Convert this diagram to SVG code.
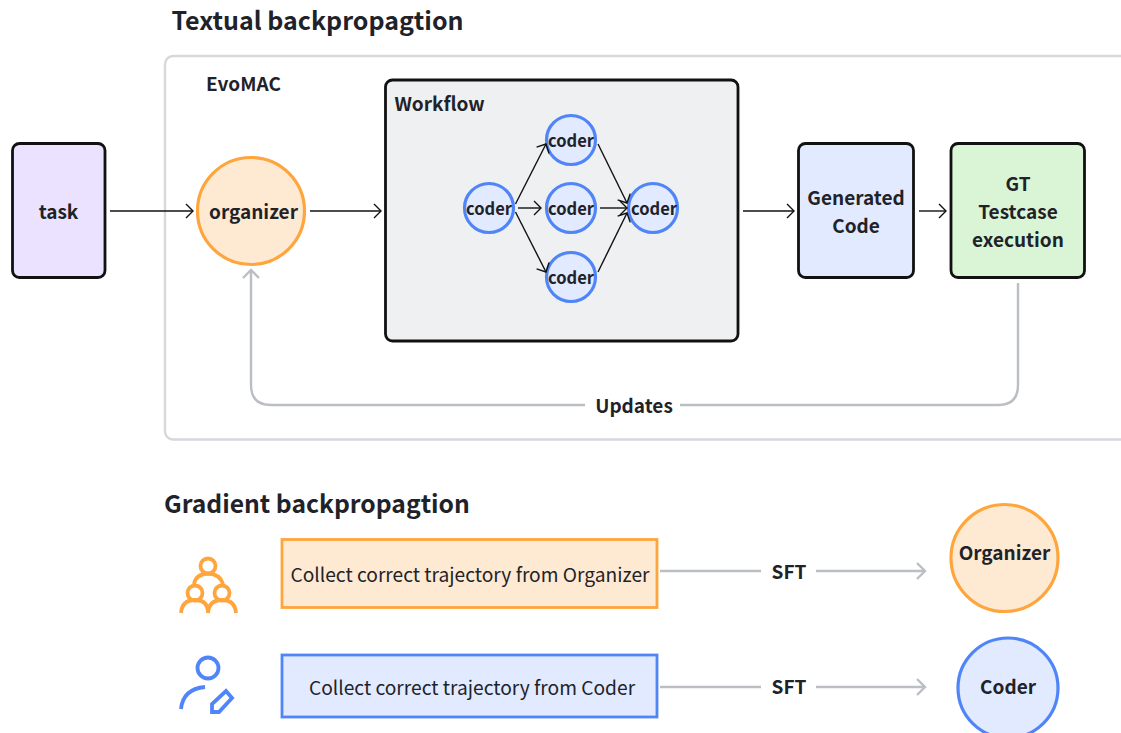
<svg xmlns="http://www.w3.org/2000/svg" width="1121" height="733" viewBox="0 0 1121 733">
<defs>
<marker id="ah" markerUnits="userSpaceOnUse" markerWidth="16" markerHeight="18" refX="13" refY="9" orient="auto" overflow="visible"><path d="M6 2L13 9L6 16" fill="none" stroke="#111" stroke-width="1.400"/></marker>
<marker id="ag" markerUnits="userSpaceOnUse" markerWidth="18" markerHeight="20" refX="15" refY="10" orient="auto" overflow="visible"><path d="M7 2L15 10L7 18" fill="none" stroke="#bbbfc4" stroke-width="2.400"/></marker>
</defs>
<style>
text{font-family:"Noto Sans CJK SC","Noto Sans",sans-serif;fill:#1f2329;text-anchor:middle;font-weight:700}
.h{font-size:25px;text-anchor:start}
.m{font-size:19px}
.n{font-size:19.200px;font-weight:400}
.c{font-size:16.500px}
.box{stroke:#111;stroke-width:2.800}
.bc{fill:#e1eaff;stroke:#5085f8;stroke-width:3.200}
.oc{fill:#feead2;stroke:#ffa53d;stroke-width:3.200}
.l{fill:none;stroke:#111;stroke-width:1.400;marker-end:url(#ah)}
.g{fill:none;stroke:#bbbfc4;stroke-width:2.400}
</style>
<rect id="evomac-frame" x="165" y="56" width="1000" height="383.500" rx="8" fill="#fff" stroke="#d6d8db" stroke-width="2.400"/>
<text class="h" x="171.500" y="30">Textual backpropagtion</text>
<text class="m" x="243.500" y="91">EvoMAC</text>
<g id="task"><rect class="box" x="12.500" y="143.500" width="92.500" height="134" rx="7" fill="#eae2fe"/><text class="m" x="58.500" y="219">task</text></g>
<g id="organizer"><circle class="oc" cx="251" cy="211" r="53.500"/><text class="m" x="253.500" y="219">organizer</text></g>
<g id="workflow"><rect class="box" x="385.500" y="80" width="352.500" height="261" rx="7" fill="#eff0f1"/><text class="m" x="439.500" y="111">Workflow</text></g>
<g id="coder-a"><circle class="bc" cx="489" cy="208" r="24.500"/><text class="c" x="489" y="215">coder</text></g>
<g id="coder-b"><circle class="bc" cx="571" cy="140" r="24.500"/><text class="c" x="571" y="147">coder</text></g>
<g id="coder-c"><circle class="bc" cx="571" cy="208" r="24.500"/><text class="c" x="571" y="215">coder</text></g>
<g id="coder-d"><circle class="bc" cx="571" cy="277" r="24.500"/><text class="c" x="571" y="284">coder</text></g>
<g id="coder-e"><circle class="bc" cx="653" cy="208" r="24.500"/><text class="c" x="654" y="215">coder</text></g>
<g id="generated-code"><rect class="box" x="798.500" y="143.500" width="115" height="134" rx="7" fill="#e1eaff"/><text class="m" x="856" y="205">Generated</text><text class="m" x="856" y="233">Code</text></g>
<g id="testcase"><rect class="box" x="951" y="143.500" width="133.500" height="134" rx="7" fill="#d9f5d6"/><text class="m" x="1018" y="191">GT</text><text class="m" x="1018" y="219">Testcase</text><text class="m" x="1018" y="247">execution</text></g>
<g id="connectors">
<path class="l" d="M110 211H193"/>
<path class="l" d="M310 211H381"/>
<path class="l" d="M743 211H794"/>
<path class="l" d="M919 211H946"/>
<path class="l" d="M515.500 204L546 144"/>
<path class="l" d="M518 208H541"/>
<path class="l" d="M515.500 212L546 272"/>
<path class="l" d="M598 144L627 203"/>
<path class="l" d="M600 208H627"/>
<path class="l" d="M598 272L627 213"/>
<path class="g" d="M1018 283V385Q1018 405 998 405H680M585 405H271Q251 405 251 385V270" marker-end="url(#ag)"/>
<path class="g" d="M660 571H761M816 571H925" marker-end="url(#ag)"/>
<path class="g" d="M660 687H761M816 687H925" marker-end="url(#ag)"/>
</g>
<text class="m" x="634" y="413">Updates</text>
<text class="h" x="164" y="513" style="font-size:24.700px">Gradient backpropagtion</text>
<g id="icon-group" fill="none" stroke="#ffa53d" stroke-width="3.800">
<circle cx="208" cy="566" r="7.500"/><circle cx="195" cy="593" r="7.500"/><circle cx="222" cy="593" r="7.500"/>
<path d="M194 584Q196 574 208 573.500Q220 574 223 584M181 613Q182 600 195 600Q208 600 208 613M208 613Q209 600 222 600Q235 600 236 613"/>
</g>
<g id="icon-coder" fill="none" stroke="#5085f8" stroke-width="3.800">
<circle cx="208" cy="668" r="10.500"/>
<path d="M181 709Q183 689 205 687M212 712V704L226 691L232 698L219 712Z"/>
</g>
<g id="collect-organizer"><rect x="282" y="539.500" width="375" height="68" fill="#feead2" stroke="#ffa53d" stroke-width="2.800"/><text class="n" x="470" y="582">Collect correct trajectory from Organizer</text></g>
<g id="collect-coder"><rect x="282" y="655" width="375" height="62" fill="#e1eaff" stroke="#5085f8" stroke-width="2.800"/><text class="n" x="472" y="695">Collect correct trajectory from Coder</text></g>
<text class="m" x="789" y="579">SFT</text>
<text class="m" x="789" y="694">SFT</text>
<g id="organizer-2"><circle class="oc" cx="1004.500" cy="558" r="53.500"/><text class="m" x="1004.500" y="560">Organizer</text></g>
<g id="coder-2"><circle class="bc" cx="1008" cy="688" r="50"/><text class="m" x="1008" y="694">Coder</text></g>
</svg>
